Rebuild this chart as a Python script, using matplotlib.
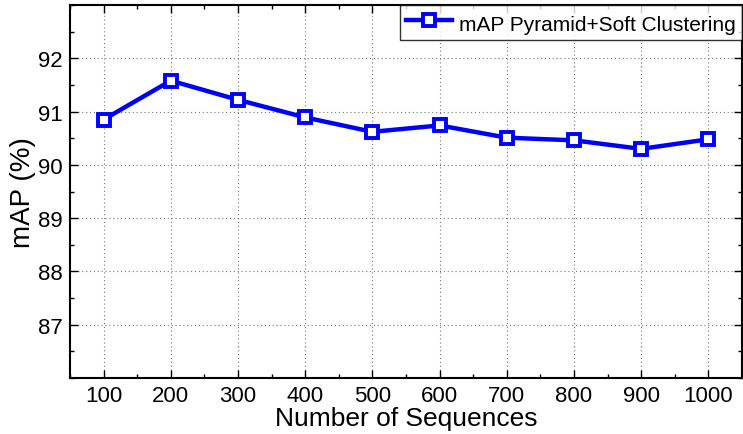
import matplotlib
matplotlib.use("Agg")
import matplotlib.pyplot as plt
from matplotlib.ticker import MultipleLocator

plt.rcParams["font.family"] = ["Liberation Sans", "DejaVu Sans"]

n_sequences = [100, 200, 300, 400, 500, 600, 700, 800, 900, 1000]
map_soft = [90.85, 91.58, 91.22, 90.89, 90.62, 90.74, 90.51, 90.46, 90.30, 90.48]
series_label = "mAP Pyramid+Soft Clustering"

fig = plt.figure(figsize=(7.43, 4.35), dpi=100)
ax = fig.add_axes([70 / 743, 1 - 379 / 435, 672 / 743, 373 / 435])

ax.plot(n_sequences, map_soft, "-s", color="#0000ff", lw=3.2, ms=8,
        mfc="white", mec="#0000ff", mew=2.8, label=series_label)

ax.set_xlim(50, 1050)
ax.set_ylim(86, 93)
ax.xaxis.set_major_locator(MultipleLocator(100))
ax.xaxis.set_minor_locator(MultipleLocator(50))
ax.set_yticks([87, 88, 89, 90, 91, 92])
ax.yaxis.set_minor_locator(MultipleLocator(0.5))
ax.tick_params(which="both", direction="in", top=True, right=True,
               labelsize=16, width=1.0)
ax.tick_params(which="major", length=6, pad=5)
ax.tick_params(which="minor", length=3)
ax.grid(True, which="major", ls=(0, (1, 2.5)), color="#777777", lw=0.8)
for s in ax.spines.values():
    s.set_linewidth(1.5)

ax.set_xlabel("Number of Sequences", fontsize=19, labelpad=0)
ax.set_ylabel("mAP (%)", fontsize=20, labelpad=2)

leg = ax.legend(loc="upper right", fontsize=15, frameon=True, fancybox=False,
                borderaxespad=0, handlelength=2.2, borderpad=0.3,
                handleheight=1.3, handletextpad=0.35)
leg.get_frame().set_edgecolor("black")
leg.get_frame().set_linewidth(1.0)

fig.savefig("out.png", dpi=100)
